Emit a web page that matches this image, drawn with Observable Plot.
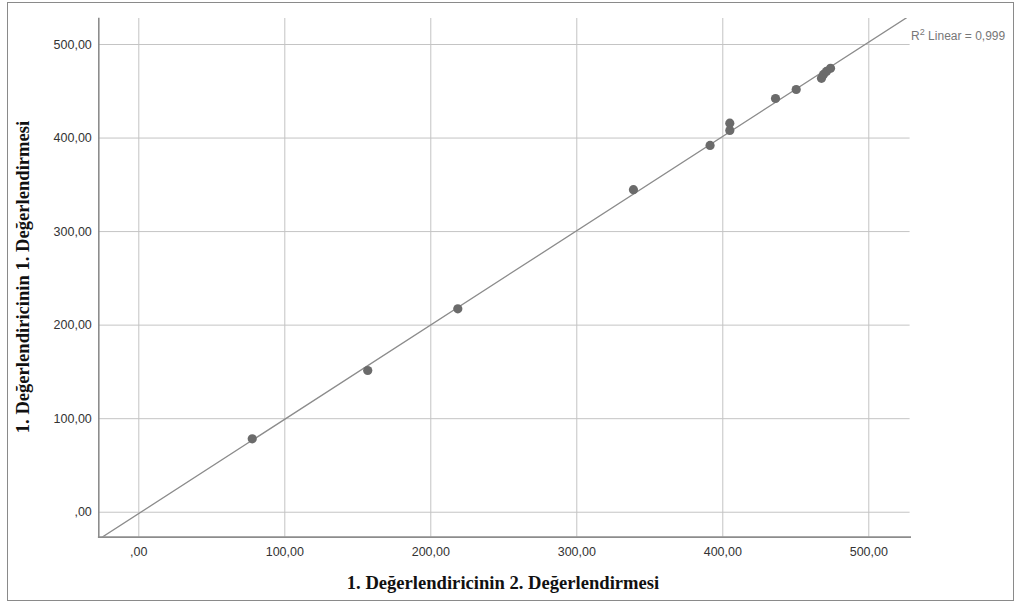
<!DOCTYPE html>
<html>
<head>
<meta charset="utf-8">
<script src="https://cdn.jsdelivr.net/npm/d3@7"></script>
<script src="https://cdn.jsdelivr.net/npm/@observablehq/plot@0.6"></script>
<style>
  html, body { margin: 0; padding: 0; background: #fff; }
  #wrap { position: relative; width: 1016px; height: 606px; }
  #border { position: absolute; left: 7px; top: 2px; width: 1005px; height: 597px; border: 1px solid #8a8a8a; pointer-events: none; }
</style>
</head>
<body>
<div id="wrap"><div id="border"></div></div>
<script>
// Data
const evalSecond = [77.7, 156.8, 218.5, 338.8, 391.3, 404.8, 404.8, 436.1, 450.3, 467.6, 469.0, 471.0, 473.8];
const evalFirst  = [78.5, 151.5, 217.4, 344.8, 392.1, 415.9, 408.1, 442.3, 451.9, 463.8, 468.0, 471.2, 474.5];
const tickValues = [0, 100, 200, 300, 400, 500];
const xTitle = "1. Değerlendiricinin 2. Değerlendirmesi";
const yTitle = "1. Değerlendiricinin 1. Değerlendirmesi";
const r2Parts = ["R", "2", " Linear = 0,999"];

const points = evalSecond.map((x, i) => ({x, y: evalFirst[i]}));

const xDomain = [-27.4, 528.3];
const yDomain = [-26.7, 527.8];

// least squares fit
const mx = d3.mean(evalSecond), my = d3.mean(evalFirst);
const b = d3.sum(points, p => (p.x - mx) * (p.y - my)) / d3.sum(points, p => (p.x - mx) ** 2);
const a = my - b * mx;
const fit = xDomain.map(x => ({x, y: a + b * x}));

const fmt = d => d === 0 ? ",00" : d.toFixed(2).replace(".", ",");

const chart = Plot.plot({
  width: 1016,
  height: 606,
  marginLeft: 98.3,
  marginRight: 106.4,
  marginTop: 18,
  marginBottom: 69.3,
  style: {fontFamily: "'Liberation Sans', Arial, sans-serif", fontSize: "12.5px", color: "#333", background: "transparent"},
  x: {domain: xDomain, label: null},
  y: {domain: yDomain, label: null},
  marks: [
    Plot.gridX(tickValues, {stroke: "#c4c4c4", strokeOpacity: 1, strokeWidth: 1}),
    Plot.gridY(tickValues, {stroke: "#c4c4c4", strokeOpacity: 1, strokeWidth: 1}),
    Plot.axisX(tickValues, {tickFormat: fmt, tickSize: 0, tickPadding: 10, fill: "#333", fontSize: 12.5, label: null}),
    Plot.axisY(tickValues, {tickFormat: fmt, tickSize: 0, tickPadding: 7, fill: "#333", fontSize: 12.5, label: null}),
    Plot.frame({anchor: "left", stroke: "#8c8c8c", strokeWidth: 1.6}),
    Plot.frame({anchor: "bottom", stroke: "#8c8c8c", strokeWidth: 1.8}),
    Plot.line(fit, {x: "x", y: "y", stroke: "#8c8c8c", strokeWidth: 1.3, clip: true}),
    Plot.dot(points, {x: "x", y: "y", r: 4.6, fill: "#6b6b6b", stroke: "none"}),
    Plot.text([r2Parts.join("")], {frameAnchor: "top-right", dx: 1, dy: 13, textAnchor: "start", text: d => d, fill: "#777", fontSize: 12, clip: false, className: "r2label"})
  ]
});

const svg = d3.select(chart);

// superscript 2 in the R² label
const r2 = svg.select(".r2label text");
if (!r2.empty()) {
  r2.text(null);
  r2.append("tspan").text(r2Parts[0]);
  r2.append("tspan").attr("dy", -5).attr("font-size", 9).text(r2Parts[1]);
  r2.append("tspan").attr("dy", 5).text(r2Parts[2]);
}

// axis titles
svg.append("text")
  .attr("x", 503).attr("y", 589)
  .attr("text-anchor", "middle")
  .attr("font-family", "'Liberation Serif', 'Times New Roman', serif")
  .attr("font-weight", "bold").attr("font-size", 18.6).attr("fill", "#111")
  .text(xTitle);
svg.append("text")
  .attr("transform", "translate(29,277) rotate(-90)")
  .attr("text-anchor", "middle")
  .attr("font-family", "'Liberation Serif', 'Times New Roman', serif")
  .attr("font-weight", "bold").attr("font-size", 18.6).attr("fill", "#111")
  .text(yTitle);

document.getElementById("wrap").appendChild(chart);
chart.style.position = "absolute";
chart.style.left = "0px";
chart.style.top = "0px";
</script>
</body>
</html>
